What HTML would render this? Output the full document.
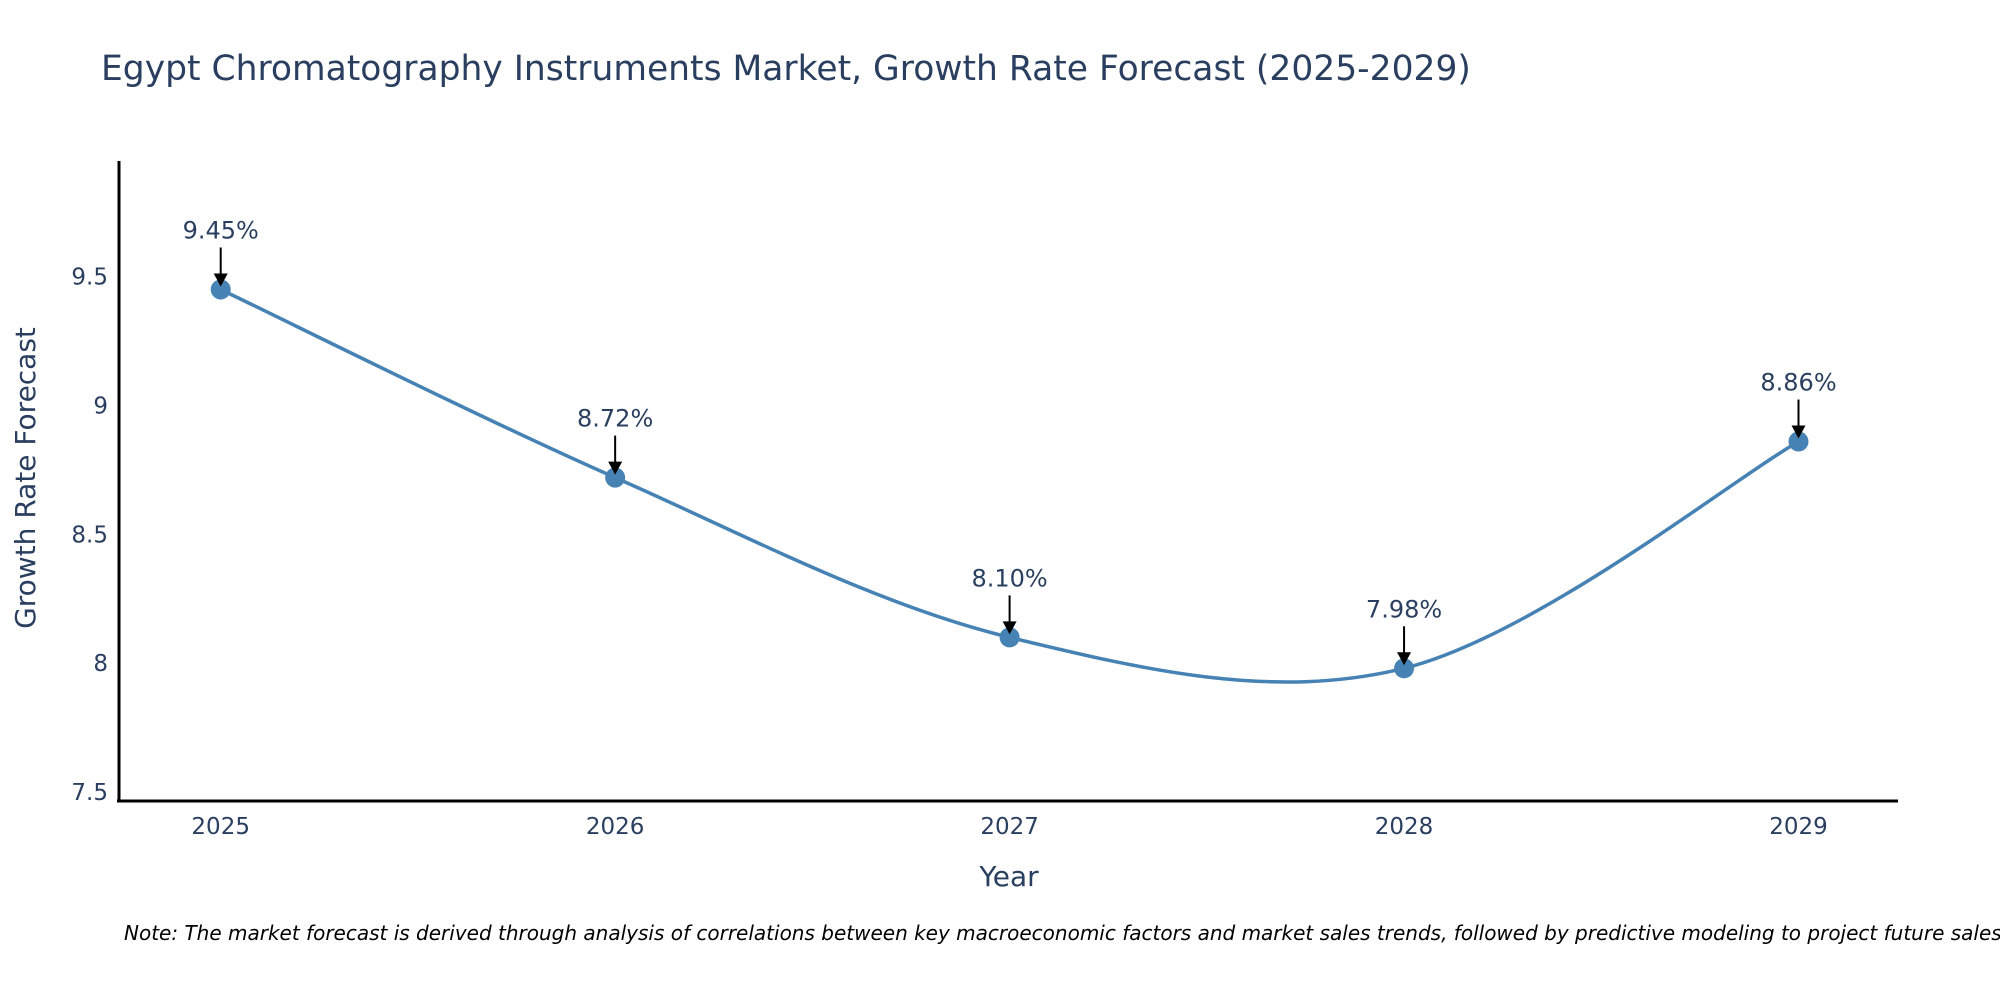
<!DOCTYPE html>
<html><head><meta charset="utf-8"><style>
body{margin:0;background:#fff}
svg{display:block;font-family:"DejaVu Sans","Liberation Sans",sans-serif}
</style></head><body>
<svg id="chart" width="2000" height="1000" viewBox="0 0 2000 1000">
<rect width="2000" height="1000" fill="#fff"/>
<text x="101" y="80" font-size="34.5" fill="#2a3f5f">Egypt Chromatography Instruments Market, Growth Rate Forecast (2025-2029)</text>
<g id="yticks"></g>
<g id="xticks"></g>
<line x1="119" y1="161" x2="119" y2="802" stroke="#000" stroke-width="3"/>
<line x1="117" y1="801" x2="1898" y2="801" stroke="#000" stroke-width="3"/>
<path id="line" fill="none" stroke="#4682b4" stroke-width="3.5"/>
<g id="points"></g>
<g id="annots"></g>
<text x="0" y="0" transform="translate(35,478) rotate(-90)" text-anchor="middle" font-size="28" fill="#2a3f5f">Growth Rate Forecast</text>
<text x="1009" y="886" text-anchor="middle" font-size="28" fill="#2a3f5f">Year</text>
<text x="124" y="940" font-size="20" font-style="italic" fill="#000">Note: The market forecast is derived through analysis of correlations between key macroeconomic factors and market sales trends, followed by predictive modeling to project future sales.</text>
</svg>
<script>
const years = [2025, 2026, 2027, 2028, 2029];
const values = [9.45, 8.72, 8.10, 7.98, 8.86];
const labels = ["9.45%", "8.72%", "8.10%", "7.98%", "8.86%"];
const yTicks = [7.5, 8, 8.5, 9, 9.5];
const yTickLabels = ["7.5", "8", "8.5", "9", "9.5"];

const NS = "http://www.w3.org/2000/svg";
function xs(yr){ return 220.7 + (yr - 2025) * 394.45; }
function ys(v){ return 792 - (v - 7.5) * 257.7; }
function mk(tag, attrs, parent){ const e = document.createElementNS(NS, tag); for (const k in attrs) e.setAttribute(k, attrs[k]); parent.appendChild(e); return e; }

const yt = document.getElementById('yticks');
yTicks.forEach((t, i) => {
  const e = mk('text', {x: 108, y: ys(t) + 8, 'text-anchor': 'end', 'font-size': 23, fill: '#2a3f5f'}, yt);
  
  
  e.textContent = yTickLabels[i];
});
const xt = document.getElementById('xticks');
years.forEach(y => {
  const e = mk('text', {x: xs(y), y: 834, 'text-anchor': 'middle', 'font-size': 23, fill: '#2a3f5f'}, xt);
  
  
  e.textContent = String(y);
});

const pts = years.map((y, i) => [xs(y), ys(values[i])]);
let d = `M${pts[0][0]},${pts[0][1]}`;
const tns = 0.5;
for (let i = 0; i < pts.length - 1; i++) {
  const p0 = pts[Math.max(0, i - 1)], p1 = pts[i], p2 = pts[i + 1], p3 = pts[Math.min(pts.length - 1, i + 2)];
  const c1 = [p1[0] + (p2[0] - p0[0]) * tns / 3, p1[1] + (p2[1] - p0[1]) * tns / 3];
  const c2 = [p2[0] - (p3[0] - p1[0]) * tns / 3, p2[1] - (p3[1] - p1[1]) * tns / 3];
  d += ` C${c1[0]},${c1[1]} ${c2[0]},${c2[1]} ${p2[0]},${p2[1]}`;
}
document.getElementById('line').setAttribute('d', d);

const pg = document.getElementById('points');
const ag = document.getElementById('annots');
pts.forEach((p, i) => {
  const c = mk('circle', {cx: p[0], cy: p[1], r: 10, fill: '#4682b4'}, pg);
  
  
  const l = mk('line', {x1: p[0], y1: p[1] - 42, x2: p[0], y2: p[1] - 12, stroke: '#000', 'stroke-width': 2}, ag);
  
  
  const h = mk('path', {d: `M${p[0]-7},${p[1]-16} L${p[0]+7},${p[1]-16} L${p[0]},${p[1]-3} Z`, fill: '#000'}, ag);
  
  
  const t = mk('text', {x: p[0], y: p[1] - 51, 'text-anchor': 'middle', 'font-size': 24, fill: '#2a3f5f'}, ag);
  
  
  t.textContent = labels[i];
});
</script>
</body></html>
